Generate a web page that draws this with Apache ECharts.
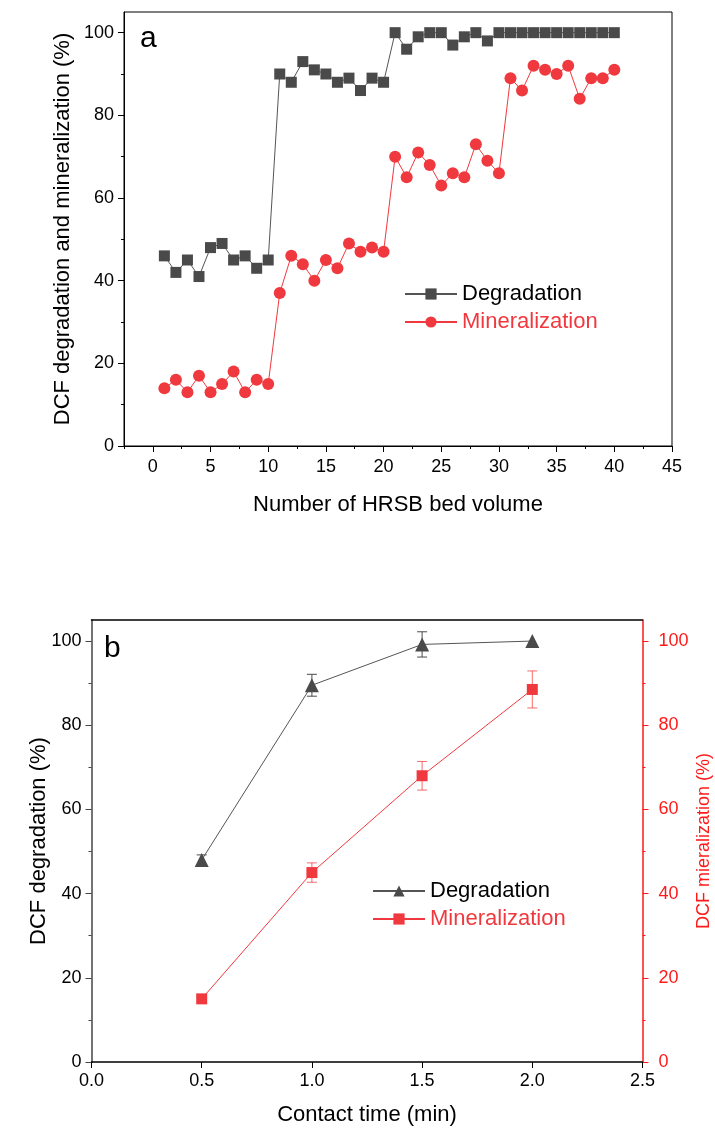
<!DOCTYPE html>
<html><head><meta charset="utf-8">
<script src="https://cdn.jsdelivr.net/npm/echarts@6/dist/echarts.min.js"></script>
<style>html,body{margin:0;padding:0;background:#fff}#c{width:715px;height:1133px}</style>
</head><body><div id="c"></div>
<script>
// ---------- Panel a data ----------
const bedVolume = [1,2,3,4,5,6,7,8,9,10,11,12,13,14,15,16,17,18,19,20,21,22,23,24,25,26,27,28,29,30,31,32,33,34,35,36,37,38,39,40];
const degradationA = [46,42,45,41,48,49,45,46,43,45,90,88,93,91,90,88,89,86,89,88,100,96,99,100,100,97,99,100,98,100,100,100,100,100,100,100,100,100,100,100];
const mineralizationA = [14,16,13,17,13,15,18,13,16,15,37,46,44,40,45,43,49,47,48,47,70,65,71,68,63,66,65,73,69,66,89,86,92,91,90,92,84,89,89,91];
const xTicksA = [0,5,10,15,20,25,30,35,40,45];
const xMinorA = [-2.5,2.5,7.5,12.5,17.5,22.5,27.5,32.5,37.5,42.5];
const yTicks = [0,20,40,60,80,100];
const yMinor = [10,30,50,70,90];

// ---------- Panel b data ----------
const contactTime = [0.5,1.0,1.5,2.0];
const degradationB = [48,89.5,99.2,100];
const degradationErrB = [1.2,2.6,3.0,0];
const mineralizationB = [15,45,68,88.5];
const mineralizationErrB = [0,2.3,3.4,4.4];
const xTicksB = [0,0.5,1.0,1.5,2.0,2.5];

const FONT = 'Liberation Sans, Arial, sans-serif';
const GRAY = '#4a4a4a', LINEGRAY = '#555555', RED = '#f0393e', AXRED = '#ff1a1a';

const chart = echarts.init(document.getElementById('c'));

function errorSeries(name, xs, ys, errs, color, xIdx, yIdx) {
  return {
    type: 'custom', name: name, xAxisIndex: xIdx, yAxisIndex: yIdx, silent: true, z: 1,
    data: xs.map((x, i) => [x, ys[i], errs[i]]),
    renderItem: function (params, api) {
      const x = api.value(0), y = api.value(1), e = api.value(2);
      if (!e) return null;
      const t = api.coord([x, y + e]), b = api.coord([x, y - e]);
      const w = 5;
      const st = { stroke: color, lineWidth: 1 };
      return { type: 'group', children: [
        { type: 'line', shape: { x1: t[0], y1: t[1], x2: b[0], y2: b[1] }, style: st },
        { type: 'line', shape: { x1: t[0] - w, y1: t[1], x2: t[0] + w, y2: t[1] }, style: st },
        { type: 'line', shape: { x1: b[0] - w, y1: b[1], x2: b[0] + w, y2: b[1] }, style: st }
      ]};
    }
  };
}

function minorX(grid, min, max, vals) {
  return { type: 'value', gridIndex: grid, position: 'bottom', min: min, max: max,
    axisLine: { show: false, onZero: false }, splitLine: { show: false },
    axisTick: { show: true, length: 3, customValues: vals, lineStyle: { color: '#000' } },
    axisLabel: { show: false } };
}
function minorY(grid, pos, vals, color) {
  return { type: 'value', gridIndex: grid, position: pos, min: 0, max: 105,
    axisLine: { show: false, onZero: false }, splitLine: { show: false },
    axisTick: { show: true, length: 3, customValues: vals, lineStyle: { color: color } },
    axisLabel: { show: false } };
}

const option = {
  animation: false,
  backgroundColor: '#fff',
  textStyle: { fontFamily: FONT },
  grid: [
    { left: 124, top: 12, width: 548, height: 434, show: true, borderColor: '#000', borderWidth: 1,
      backgroundColor: 'transparent', containLabel: false, outerBoundsMode: 'none' },
    { left: 91.5, top: 620, width: 551, height: 442, containLabel: false, outerBoundsMode: 'none' }
  ],
  xAxis: [
    { type: 'value', gridIndex: 0, position: 'bottom', min: -2.5, max: 45,
      name: 'Number of HRSB bed volume', nameLocation: 'middle', nameGap: 48, nameMoveOverlap: false,
      nameTextStyle: { fontSize: 22, color: '#000', fontFamily: FONT },
      axisLine: { onZero: false, lineStyle: { color: '#000', width: 1 } },
      axisTick: { show: true, length: 6, customValues: xTicksA, lineStyle: { color: '#000' } },
      axisLabel: { customValues: xTicksA, fontSize: 18, color: '#000', margin: 12, fontFamily: FONT },
      splitLine: { show: false } },
    minorX(0, -2.5, 45, xMinorA),
    { type: 'value', gridIndex: 1, position: 'bottom', min: 0, max: 2.5, interval: 0.5,
      name: 'Contact time (min)', nameLocation: 'middle', nameGap: 42, nameMoveOverlap: false,
      nameTextStyle: { fontSize: 22, color: '#000', fontFamily: FONT },
      axisLine: { onZero: false, lineStyle: { color: '#000', width: 1.5 } },
      axisTick: { show: true, length: 6, customValues: xTicksB, lineStyle: { color: '#000' } },
      axisLabel: { customValues: xTicksB, fontSize: 18, color: '#000', margin: 10, fontFamily: FONT, formatter: v => v.toFixed(1) },
      splitLine: { show: false } },
    { type: 'value', gridIndex: 1, position: 'top', min: 0, max: 2.5,
      axisLine: { onZero: false, lineStyle: { color: '#000', width: 1.5 } },
      axisTick: { show: false }, axisLabel: { show: false }, splitLine: { show: false } }
  ],
  yAxis: [
    { type: 'value', gridIndex: 0, position: 'left', min: 0, max: 105,
      name: 'DCF degradation and mineralization (%)', nameLocation: 'middle', nameGap: 50, nameMoveOverlap: false,
      nameTextStyle: { fontSize: 22, color: '#000', fontFamily: FONT },
      axisLine: { show: true, onZero: false, lineStyle: { color: '#000', width: 1 } },
      axisTick: { show: true, length: 6, customValues: yTicks, lineStyle: { color: '#000' } },
      axisLabel: { customValues: yTicks, fontSize: 18, color: '#000', margin: 10, fontFamily: FONT },
      splitLine: { show: false } },
    minorY(0, 'left', yMinor, '#000'),
    { type: 'value', gridIndex: 1, position: 'left', min: 0, max: 105,
      name: 'DCF degradation (%)', nameLocation: 'middle', nameGap: 42, nameMoveOverlap: false,
      nameTextStyle: { fontSize: 22, color: '#000', fontFamily: FONT },
      axisLine: { show: true, onZero: false, lineStyle: { color: '#444', width: 1.5 } },
      axisTick: { show: true, length: 6, customValues: yTicks, lineStyle: { color: '#444' } },
      axisLabel: { customValues: yTicks, fontSize: 18, color: '#000', margin: 10, fontFamily: FONT },
      splitLine: { show: false } },
    minorY(1, 'left', yMinor, '#444'),
    { type: 'value', gridIndex: 1, position: 'right', min: 0, max: 105,
      name: 'DCF mieralization (%)', nameLocation: 'middle', nameGap: 53, nameMoveOverlap: false,
      nameTextStyle: { fontSize: 18, color: AXRED, fontFamily: FONT },
      axisLine: { show: true, onZero: false, lineStyle: { color: AXRED, width: 1.5 } },
      axisTick: { show: true, length: 6, customValues: yTicks, lineStyle: { color: AXRED } },
      axisLabel: { customValues: yTicks, fontSize: 18, color: AXRED, margin: 16, fontFamily: FONT },
      splitLine: { show: false } },
    minorY(1, 'right', yMinor, AXRED)
  ],
  legend: [
    { orient: 'vertical', left: 404, top: 283, padding: 0, itemWidth: 52, itemHeight: 14, itemGap: 6,
      textStyle: { fontSize: 22, fontFamily: FONT },
      data: [ { name: 'Degradation', textStyle: { color: '#000' } },
              { name: 'Mineralization', textStyle: { color: RED } } ] },
    { orient: 'vertical', left: 372, top: 880, padding: 0, itemWidth: 52, itemHeight: 14, itemGap: 6,
      textStyle: { fontSize: 22, fontFamily: FONT },
      formatter: n => n.replace(' (b)', ''),
      data: [ { name: 'Degradation (b)', textStyle: { color: '#000' } },
              { name: 'Mineralization (b)', textStyle: { color: RED } } ] }
  ],
  graphic: [
    { type: 'text', left: 140, top: 24, style: { text: 'a', font: '30px ' + FONT, fill: '#000' } },
    { type: 'text', left: 104, top: 634, style: { text: 'b', font: '30px ' + FONT, fill: '#000' } }
  ],
  series: [
    { type: 'line', name: 'Degradation', xAxisIndex: 0, yAxisIndex: 0,
      data: bedVolume.map((x, i) => [x, degradationA[i]]),
      symbol: 'rect', symbolSize: 11, showAllSymbol: true,
      lineStyle: { color: LINEGRAY, width: 1 }, itemStyle: { color: GRAY } },
    { type: 'line', name: 'Mineralization', xAxisIndex: 0, yAxisIndex: 0,
      data: bedVolume.map((x, i) => [x, mineralizationA[i]]),
      symbol: 'circle', symbolSize: 12, showAllSymbol: true,
      lineStyle: { color: RED, width: 1 }, itemStyle: { color: RED } },
    { type: 'line', name: 'Degradation (b)', xAxisIndex: 2, yAxisIndex: 2,
      data: contactTime.map((x, i) => [x, degradationB[i]]),
      symbol: 'triangle', symbolSize: 14,
      lineStyle: { color: LINEGRAY, width: 1 }, itemStyle: { color: GRAY }, z: 3 },
    { type: 'line', name: 'Mineralization (b)', xAxisIndex: 2, yAxisIndex: 4,
      data: contactTime.map((x, i) => [x, mineralizationB[i]]),
      symbol: 'rect', symbolSize: 11,
      lineStyle: { color: RED, width: 1 }, itemStyle: { color: RED }, z: 3 },
    errorSeries('degErr', contactTime, degradationB, degradationErrB, GRAY, 2, 2),
    errorSeries('minErr', contactTime, mineralizationB, mineralizationErrB, 'rgba(240,57,62,0.75)', 2, 4)
  ]
};
chart.setOption(option);
</script>
</body></html>
